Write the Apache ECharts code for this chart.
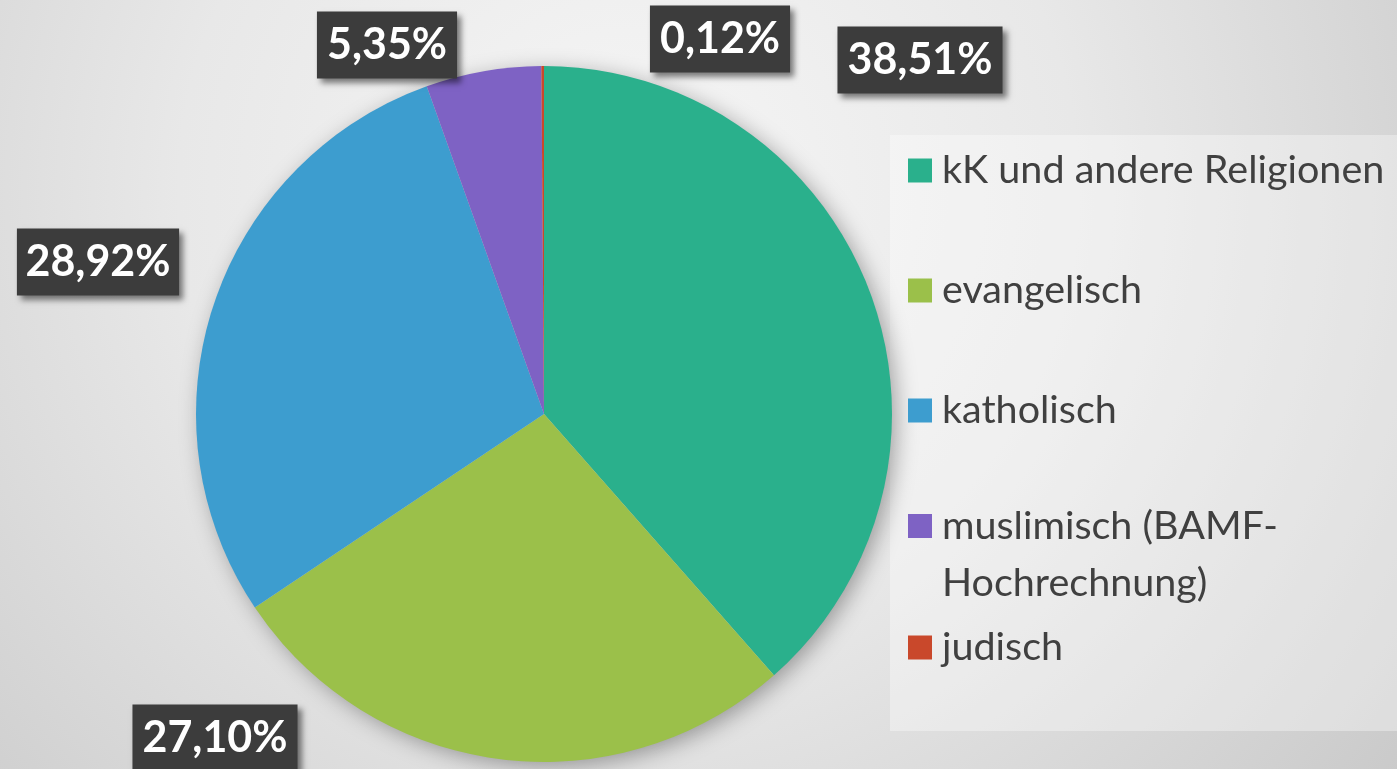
<!DOCTYPE html>
<html>
<head>
<meta charset="utf-8">
<script src="https://cdn.jsdelivr.net/npm/echarts@6/dist/echarts.min.js"></script>
<style>
  html, body { margin: 0; padding: 0; }
  #main { width: 1397px; height: 769px; }
</style>
</head>
<body>
<div id="main"></div>
<script>
var categories = [
    'kK und andere Religionen',
    'evangelisch',
    'katholisch',
    'muslimisch (BAMF-Hochrechnung)',
    'judisch'
];
var shares = [38.51, 27.10, 28.92, 5.35, 0.12];
var colors = ['#2AB08C', '#9BC04A', '#3D9DCF', '#7E62C4', '#C9482B'];

// where the value boxes sit (label centres, px)
var labelPos = [[920, 60], [215, 738], [98, 262], [387, 45], [720, 39]];

var seriesData = categories.map(function (name, i) {
    return { name: name, value: shares[i], itemStyle: { color: colors[i] } };
});
var total = shares.reduce(function (a, b) { return a + b; }, 0);

var dom = document.getElementById('main');
var myChart = echarts.init(dom);

var legendText = {
    fontFamily: 'Lato',
    fontSize: 39.5,
    color: '#404040',
    padding: [0, 0, 0, 5]
};

var option = {
    animation: false,
    backgroundColor: {
        type: 'radial', x: 0.45, y: 0.25, r: 1.3,
        colorStops: [
            { offset: 0, color: '#f6f6f6' },
            { offset: 0.45, color: '#e8e8e8' },
            { offset: 1, color: '#c8c8c8' }
        ]
    },
    graphic: [{
        type: 'rect',
        shape: { x: 890, y: 135, width: 507, height: 596 },
        style: { fill: 'rgba(255,255,255,0.35)' },
        z: 0
    }],
    legend: [
        {
            data: categories.slice(0, 3),
            orient: 'vertical',
            left: 908, top: 150.5,
            itemWidth: 24, itemHeight: 24, itemGap: 80,
            padding: 0,
            icon: 'rect',
            textStyle: legendText
        },
        {
            data: [categories[3]],
            orient: 'vertical',
            left: 908, top: 440.5,
            itemWidth: 24, itemHeight: 24,
            padding: 0,
            icon: 'rect',
            // blank first line keeps the first text line level with the icon
            formatter: function (name) { return '\n' + name.replace('-', '-\n'); },
            textStyle: {
                fontFamily: 'Lato', fontSize: 39.5, color: '#404040',
                lineHeight: 57, padding: [0, 0, 0, 5]
            }
        },
        {
            data: [categories[4]],
            orient: 'vertical',
            left: 908, top: 627.5,
            itemWidth: 24, itemHeight: 24,
            padding: 0,
            icon: 'rect',
            textStyle: legendText
        }
    ],
    series: [
        {
            // soft drop shadow under the whole pie
            type: 'pie',
            silent: true,
            center: [544, 414],
            radius: 347,
            label: { show: false },
            labelLine: { show: false },
            itemStyle: {
                color: '#cccccc',
                shadowBlur: 22,
                shadowOffsetX: 5,
                shadowOffsetY: 5,
                shadowColor: 'rgba(0,0,0,0.35)'
            },
            data: [{ name: '_shadow', value: total }],
            z: 1
        },
        {
            name: 'Religion',
            type: 'pie',
            center: [544, 414],
            radius: 348,
            startAngle: 90,
            clockwise: true,
            data: seriesData,
            z: 2,
            label: {
                show: true,
                position: 'outside',
                overflow: 'none',
                formatter: function (p) {
                    return p.value.toFixed(2).replace('.', ',') + '%';
                },
                fontFamily: 'Lato',
                fontWeight: 'bold',
                fontSize: 43,
                lineHeight: 49,
                color: '#ffffff',
                backgroundColor: '#3c3c3c',
                padding: [9, 10, 9, 10],
                shadowColor: 'rgba(0,0,0,0.5)',
                shadowBlur: 6,
                shadowOffsetX: 4,
                shadowOffsetY: 4
            },
            labelLine: { show: false },
            labelLayout: function (params) {
                var p = labelPos[params.dataIndex];
                return { x: p[0], y: p[1], align: 'center', verticalAlign: 'middle' };
            },
            emphasis: { scale: false }
        }
    ]
};

myChart.setOption(option, true);
</script>
</body>
</html>
